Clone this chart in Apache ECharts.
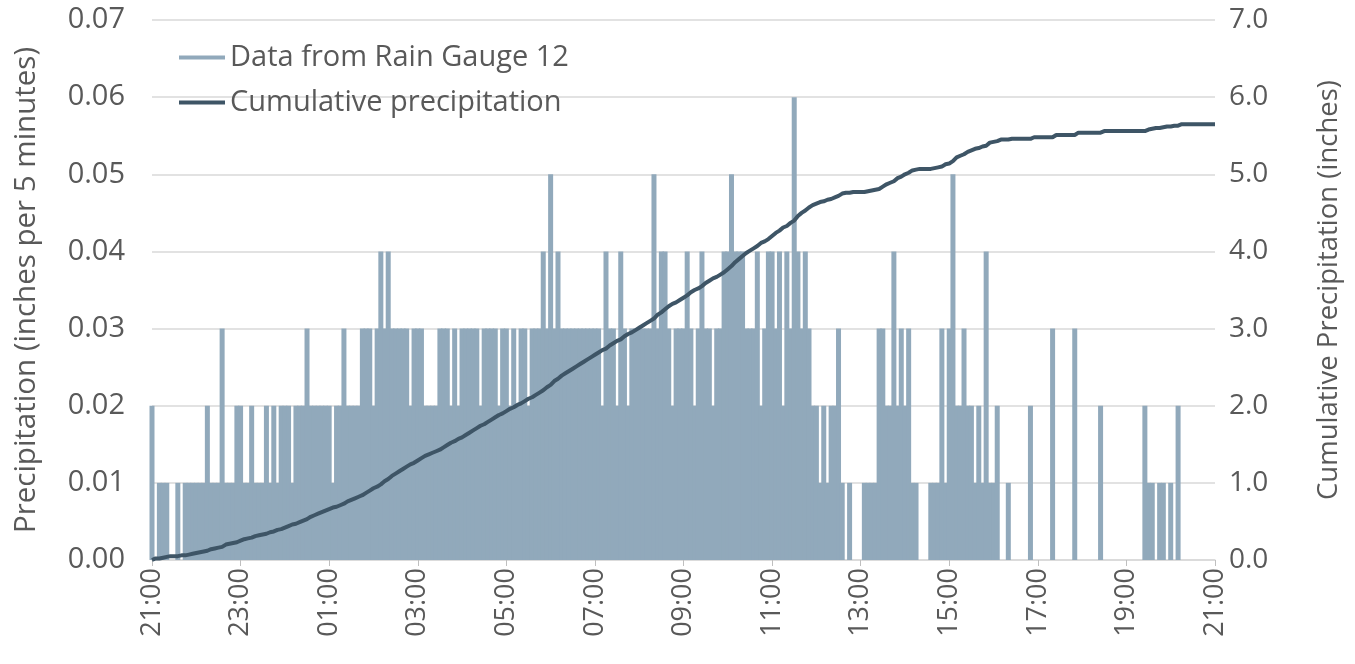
<!DOCTYPE html>
<html>
<head>
<meta charset="utf-8">
<script src="https://cdn.jsdelivr.net/npm/echarts@6/dist/echarts.min.js"></script>
<style>
  html, body { margin: 0; padding: 0; background: #fff; }
  #chart { width: 1355px; height: 664px; }
</style>
</head>
<body>
<div id="chart"></div>
<script>
// rain gauge 12, inches per 5 minutes, one array per 2 hours (24 readings each)
var rain2100 = [0.02,0,0.01,0.01,0.01,0,0,0.01,0,0.01,0.01,0.01,0.01,0.01,0.01,0.02,0.01,0.01,0.01,0.03,0.01,0.01,0.01,0.02]
var rain2300 = [0.02,0.01,0.01,0.02,0.01,0.01,0.01,0.02,0.01,0.02,0.01,0.02,0.02,0.02,0.01,0.02,0.02,0.02,0.03,0.02,0.02,0.02,0.02,0.02]
var rain0100 = [0.02,0.01,0.02,0.02,0.03,0.02,0.02,0.02,0.02,0.03,0.03,0.03,0.02,0.03,0.04,0.03,0.04,0.03,0.03,0.03,0.03,0.03,0.02,0.03]
var rain0300 = [0.03,0.03,0.02,0.02,0.02,0.02,0.03,0.03,0.03,0.02,0.03,0.02,0.03,0.03,0.03,0.03,0.03,0.02,0.03,0.03,0.03,0.03,0.02,0.03]
var rain0500 = [0.03,0.02,0.03,0.02,0.03,0.03,0.02,0.03,0.03,0.03,0.04,0.03,0.05,0.03,0.04,0.03,0.03,0.03,0.03,0.03,0.03,0.03,0.03,0.03]
var rain0700 = [0.03,0.03,0.02,0.04,0.03,0.03,0.02,0.04,0.03,0.02,0.03,0.03,0.03,0.03,0.03,0.03,0.05,0.03,0.04,0.04,0.03,0.02,0.03,0.03]
var rain0900 = [0.03,0.04,0.03,0.02,0.03,0.04,0.03,0.03,0.02,0.03,0.03,0.04,0.04,0.05,0.04,0.04,0.04,0.03,0.03,0.03,0.04,0.02,0.03,0.04]
var rain1100 = [0.04,0.03,0.04,0.02,0.04,0.03,0.06,0.04,0.03,0.04,0.03,0.02,0.02,0.01,0.02,0.01,0.02,0.02,0.03,0.01,0,0.01,0,0]
var rain1300 = [0,0.01,0.01,0.01,0.01,0.03,0.03,0.02,0.02,0.04,0.02,0.03,0.02,0.03,0.01,0.01,0,0,0,0.01,0.01,0.01,0.03,0.01]
var rain1500 = [0.03,0.05,0.02,0.02,0.03,0.02,0.02,0.01,0.02,0.01,0.04,0.01,0.01,0.02,0,0,0.01,0,0,0,0,0,0.02,0]
var rain1700 = [0,0,0,0,0.03,0,0,0,0,0,0.03,0,0,0,0,0,0,0.02,0,0,0,0,0,0]
var rain1900 = [0,0,0,0,0,0.02,0.01,0.01,0,0.01,0.01,0,0.01,0,0.02,0,0,0,0,0,0,0,0,0]

var hourLabels = ['21:00','23:00','01:00','03:00','05:00','07:00','09:00','11:00','13:00','15:00','17:00','19:00','21:00']

var rain = [].concat(rain2100, rain2300, rain0100, rain0300, rain0500, rain0700,
  rain0900, rain1100, rain1300, rain1500, rain1700, rain1900)

// 5 minute categories, the hour labels sit on every 24th one
var times = []
hourLabels.forEach(function (h, i) {
  if (i === hourLabels.length - 1) { times.push(h); return }
  var hh = parseInt(h, 10)
  for (var j = 0; j < 24; j++) {
    var m = j * 5
    var t = (hh + Math.floor(m / 60)) % 24
    times.push((t < 10 ? '0' : '') + t + ':' + ('0' + (m % 60)).slice(-2))
  }
})

var bars = rain.concat([null])
var cumulative = [0]
rain.forEach(function (v, i) {
  cumulative.push(Math.round((cumulative[i] + v) * 100) / 100)
})

var textColor = '#595959'
var fontFam = '"Open Sans", Roboto, sans-serif'

var chart = echarts.init(document.getElementById('chart'))
chart.setOption({
  animation: false,
  textStyle: { fontFamily: fontFam },
  grid: { left: 152, right: 140, top: 20, bottom: 104 },
  legend: {
    orient: 'vertical',
    left: 174,
    top: 38,
    itemWidth: 46,
    itemHeight: 4,
    itemGap: 16,
    textStyle: { fontSize: 29, color: textColor, fontFamily: fontFam },
    data: [
      { name: 'Data from Rain Gauge 12', icon: 'rect' },
      { name: 'Cumulative precipitation', icon: 'rect' }
    ]
  },
  xAxis: {
    type: 'category',
    data: times,
    boundaryGap: false,
    axisLine: { lineStyle: { color: '#d9d9d9', width: 1.5 } },
    axisTick: { interval: 23, length: 6, lineStyle: { color: '#bfbfbf' } },
    axisLabel: { interval: 23, rotate: 90, fontSize: 27, color: textColor, margin: 8 },
    splitLine: { show: false }
  },
  yAxis: [{
    type: 'value',
    min: 0,
    max: 0.07,
    interval: 0.01,
    name: 'Precipitation (inches per 5 minutes)',
    nameLocation: 'middle',
    nameRotate: 90,
    nameGap: 110,
    nameTextStyle: { fontSize: 29.5, color: textColor },
    axisLabel: { fontSize: 29, color: textColor, margin: 27, formatter: function (v) { return v.toFixed(2) } },
    splitLine: { lineStyle: { color: '#d9d9d9', width: 1.5 } },
    axisLine: { show: false },
    axisTick: { show: false }
  }, {
    type: 'value',
    min: 0,
    max: 7,
    interval: 1,
    name: 'Cumulative Precipitation (inches)',
    nameLocation: 'middle',
    nameRotate: 90,
    nameGap: 100,
    nameTextStyle: { fontSize: 27.5, color: textColor },
    axisLabel: { fontSize: 28, color: textColor, margin: 14, formatter: function (v) { return v.toFixed(1) } },
    splitLine: { show: false },
    axisLine: { show: false },
    axisTick: { show: false }
  }],
  series: [{
    name: 'Data from Rain Gauge 12',
    type: 'bar',
    data: bars,
    barWidth: 5,
    itemStyle: { color: '#91a9bb' }
  }, {
    name: 'Cumulative precipitation',
    type: 'line',
    yAxisIndex: 1,
    data: cumulative,
    showSymbol: false,
    symbol: 'none',
    lineStyle: { color: '#3e5566', width: 4 },
    itemStyle: { color: '#3e5566' }
  }]
})
</script>
</body>
</html>
